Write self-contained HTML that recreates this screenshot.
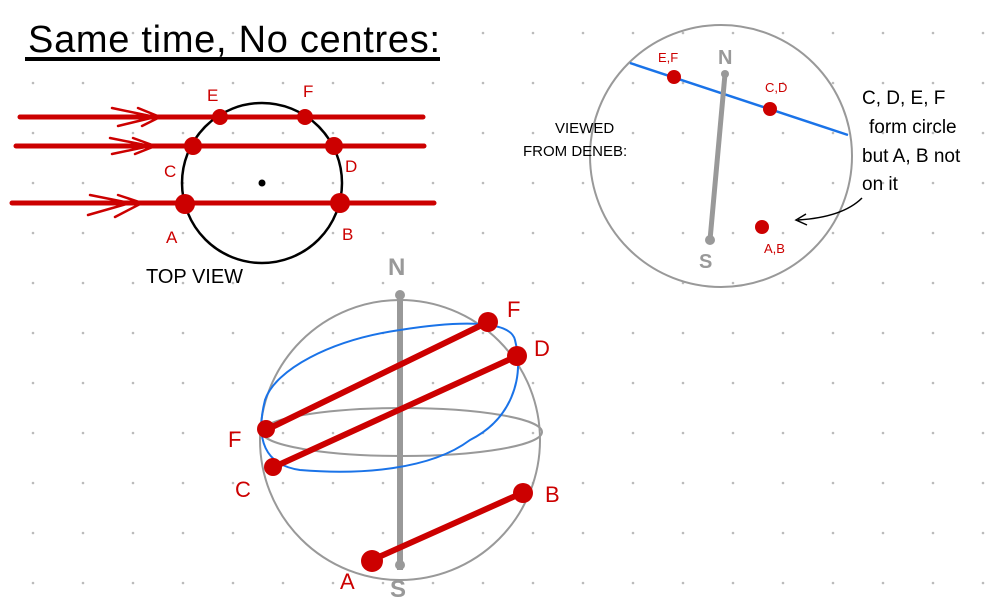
<!DOCTYPE html><html><head><style>body{margin:0;background:#fff}svg{display:block}
text{font-family:"Liberation Sans",sans-serif}</style></head><body>
<svg width="987" height="598" viewBox="0 0 987 598" xmlns="http://www.w3.org/2000/svg">
<defs><pattern id="g" x="8" y="8" width="50" height="50" patternUnits="userSpaceOnUse"><circle cx="25" cy="25" r="1.3" fill="#bbb"/></pattern></defs>
<rect width="987" height="598" fill="url(#g)"/>
<text x="28" y="52" font-size="38" fill="#000" textLength="412">Same time, No centres:</text>
<line x1="25" y1="59" x2="440" y2="59" stroke="#000" stroke-width="4"/>
<!-- top view -->
<circle cx="262" cy="183" r="80" fill="none" stroke="#000" stroke-width="2.5"/>
<circle cx="262" cy="183" r="3.5" fill="#000"/>
<g stroke="#c00" stroke-width="5" stroke-linecap="round" fill="none">
<line x1="20" y1="117" x2="423" y2="117"/><line x1="16" y1="146" x2="424" y2="146"/><line x1="12" y1="203" x2="434" y2="203"/>
<g stroke-width="2.5"><path d="M112 108 L155 117 L118 126 M138 108 L160 117 L142 126"/>
<path d="M110 138 L150 146 L112 154 M133 138 L155 146 L135 154"/>
<path d="M90 195 L130 203 L88 215 M118 195 L142 203 L115 217"/></g>
</g>
<g fill="#c00"><circle cx="220" cy="117" r="8"/><circle cx="305" cy="117" r="8"/><circle cx="193" cy="146" r="9"/><circle cx="334" cy="146" r="9"/><circle cx="185" cy="204" r="10"/><circle cx="340" cy="203" r="10"/></g>
<g fill="#c00" font-size="17"><text x="207" y="101">E</text><text x="303" y="97">F</text><text x="164" y="177">C</text><text x="345" y="172">D</text><text x="166" y="243">A</text><text x="342" y="240">B</text></g>
<text x="146" y="283" font-size="20">TOP VIEW</text>
<!-- sphere -->
<circle cx="400" cy="440" r="140" fill="none" stroke="#999" stroke-width="2"/>
<ellipse cx="402" cy="432" rx="140" ry="24" fill="none" stroke="#999" stroke-width="2"/>
<line x1="400" y1="295" x2="400" y2="570" stroke="#999" stroke-width="6"/>
<circle cx="400" cy="295" r="5" fill="#999"/><circle cx="400" cy="565" r="5" fill="#999"/>
<text x="388" y="275" font-size="24" font-weight="bold" fill="#999">N</text>
<text x="390" y="597" font-size="24" font-weight="bold" fill="#999">S</text>
<path d="M265 400 C275 370 330 340 400 330 C450 322 510 318 515 340 C525 380 510 420 470 440 C430 470 360 475 300 470 C265 465 255 440 265 400 Z" fill="none" stroke="#1a73e8" stroke-width="2"/>
<g stroke="#c00" stroke-width="6" stroke-linecap="round"><line x1="266" y1="430" x2="488" y2="322"/><line x1="274" y1="467" x2="517" y2="356"/><line x1="372" y1="560" x2="522" y2="493"/></g>
<g fill="#c00"><circle cx="266" cy="429" r="9"/><circle cx="488" cy="322" r="10"/><circle cx="273" cy="467" r="9"/><circle cx="517" cy="356" r="10"/><circle cx="372" cy="561" r="11"/><circle cx="523" cy="493" r="10"/></g>
<g fill="#c00" font-size="22"><text x="228" y="447">F</text><text x="235" y="497">C</text><text x="507" y="317">F</text><text x="534" y="356">D</text><text x="545" y="502">B</text><text x="340" y="589">A</text></g>
<!-- deneb view -->
<circle cx="721" cy="156" r="131" fill="none" stroke="#999" stroke-width="2"/>
<line x1="630" y1="63" x2="848" y2="135" stroke="#1a73e8" stroke-width="2.5"/>
<line x1="725" y1="74" x2="710" y2="240" stroke="#999" stroke-width="5" stroke-linecap="round"/>
<circle cx="725" cy="74" r="4" fill="#999"/><circle cx="710" cy="240" r="5" fill="#999"/>
<text x="718" y="64" font-size="20" font-weight="bold" fill="#999">N</text>
<text x="699" y="268" font-size="20" font-weight="bold" fill="#999">S</text>
<g fill="#c00"><circle cx="674" cy="77" r="7"/><circle cx="770" cy="109" r="7"/><circle cx="762" cy="227" r="7"/></g>
<g fill="#c00" font-size="13"><text x="658" y="62">E,F</text><text x="765" y="92">C,D</text><text x="764" y="253">A,B</text></g>
<text x="555" y="133" font-size="15">VIEWED</text><text x="523" y="156" font-size="15">FROM DENEB:</text>
<g font-size="19"><text x="862" y="104">C, D, E, F</text><text x="869" y="133">form circle</text><text x="862" y="162">but A, B not</text><text x="862" y="190">on it</text></g>
<path d="M862 198 C850 210 830 218 798 220" fill="none" stroke="#000" stroke-width="1.5"/>
<path d="M806 214 L796 220 L807 225" fill="none" stroke="#000" stroke-width="1.5"/>
</svg></body></html>
